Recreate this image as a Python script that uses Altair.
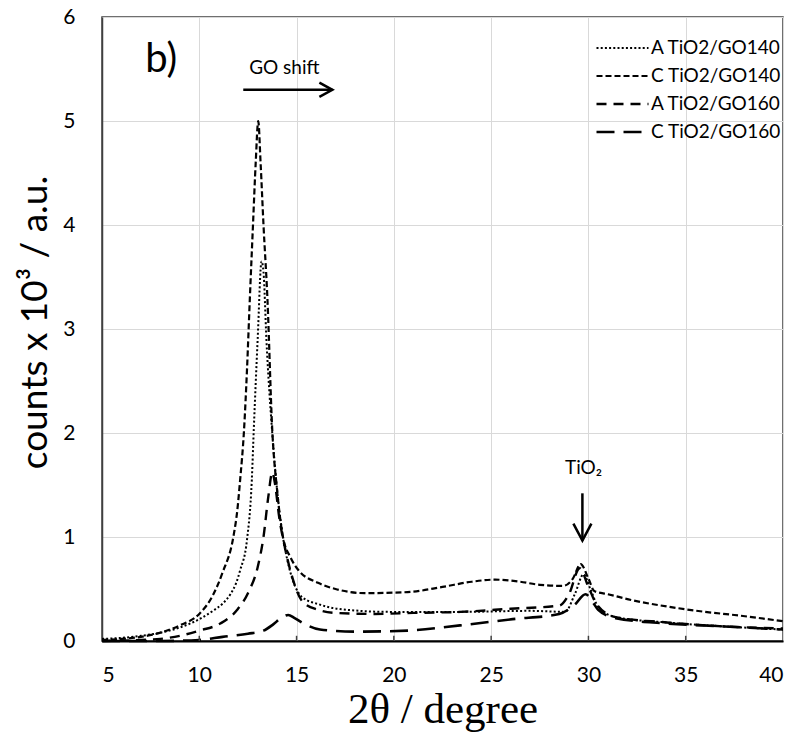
import altair as alt
import pandas as pd

# ---- data ----
SERIES = ["A TiO2/GO140", "C TiO2/GO140", "A TiO2/GO160", "C TiO2/GO160"]

a140_x = [5, 6, 7, 8, 9, 10, 10.7, 11.2, 11.6, 11.9, 12.1, 12.45, 12.7, 12.8, 13.0, 13.2, 13.3, 13.45, 13.75, 14.0,
          14.3, 14.6, 15.3, 16.2, 17.1, 19.8, 23.4, 27.0, 28.8, 29.3, 29.75, 30.1, 30.5, 31.4, 33.9, 37.0, 40]
a140_y = [0.02, 0.03, 0.05, 0.08, 0.13, 0.21, 0.29, 0.36, 0.45, 0.56, 0.68, 0.97, 1.55, 2.03, 2.9, 3.65, 3.55, 2.9,
          2.0, 1.45, 1.0, 0.72, 0.42, 0.35, 0.31, 0.28, 0.28, 0.29, 0.28, 0.45, 0.64, 0.5, 0.33, 0.23, 0.18, 0.14, 0.11]

c140_x = [5, 6, 7, 8, 9, 10, 10.7, 11.2, 11.75, 11.95, 12.1, 12.3, 12.45, 12.6, 12.76, 12.9, 13.03, 13.15, 13.3, 13.5,
          13.75, 14.0, 14.3, 14.7, 15.1, 16.1, 17.0, 18.5, 20.7, 22.5, 24.0, 25.2, 26.5, 27.5, 28.7, 29.2, 29.6, 30.0,
          30.3, 31.0, 32.3, 34.1, 36.0, 37.5, 40]
c140_y = [0.01, 0.02, 0.04, 0.08, 0.15, 0.26, 0.44, 0.66, 1.0, 1.25, 1.55, 2.03, 2.6, 3.3, 4.0, 4.6, 5.0, 4.6, 4.0, 3.3,
          2.03, 1.45, 1.0, 0.8, 0.68, 0.56, 0.5, 0.46, 0.47, 0.52, 0.57, 0.59, 0.57, 0.54, 0.53, 0.6, 0.74, 0.6,
          0.48, 0.45, 0.39, 0.33, 0.28, 0.25, 0.19]

a160_x = [5, 7, 8, 9, 10, 11.1, 11.95, 12.5, 13.0, 13.3, 13.55, 13.75, 13.9, 14.1, 14.4, 14.8, 15.3, 16.1, 17.0,
          19.0, 21.0, 23.4, 26.0, 28.5, 29.0, 29.55, 30.0, 30.4, 31.4, 33.9, 37.0, 40]
a160_y = [0.0, 0.01, 0.02, 0.05, 0.1, 0.17, 0.30, 0.46, 0.71, 1.0, 1.39, 1.62, 1.5, 1.2, 0.9, 0.6, 0.38, 0.3, 0.27,
          0.26, 0.27, 0.28, 0.31, 0.34, 0.45, 0.7, 0.52, 0.36, 0.23, 0.18, 0.14, 0.12]

c160_x = [5, 8, 10, 11.2, 12.5, 13.3, 13.8, 14.2, 14.57, 14.9, 15.35, 16.2, 18.0, 20.7, 23.4, 26.1, 28.5, 29.3, 29.85,
          30.2, 30.5, 31.4, 33.9, 37.0, 40]
c160_y = [0.0, 0.0, 0.01, 0.04, 0.07, 0.1, 0.16, 0.22, 0.25, 0.22, 0.17, 0.11, 0.09, 0.1, 0.15, 0.21, 0.26, 0.35, 0.45,
          0.38, 0.3, 0.22, 0.17, 0.14, 0.11]

X_TICKS = [5, 10, 15, 20, 25, 30, 35, 40]
Y_TICKS = [0, 1, 2, 3, 4, 5, 6]

rows = []
for name, xs, ys in [(SERIES[0], a140_x, a140_y), (SERIES[1], c140_x, c140_y),
                     (SERIES[2], a160_x, a160_y), (SERIES[3], c160_x, c160_y)]:
    for xv, yv in zip(xs, ys):
        rows.append({"series": name, "x": xv, "y": yv})
df = pd.DataFrame(rows)

FONT = "Lato"

xscale = alt.Scale(domain=[5, 40], nice=False, zero=False)
yscale = alt.Scale(domain=[0, 6], nice=False)

lines = alt.Chart(df).mark_line(interpolate="monotone", color="black").encode(
    x=alt.X("x:Q", scale=xscale,
            axis=alt.Axis(values=X_TICKS, format="d", grid=True, gridColor="#d9d9d9", ticks=False,
                          domainColor="black", domainWidth=2, labelFontSize=21, labelFont=FONT,
                          labelPadding=23, labelColor="black",
                          title="2θ / degree", titleFont="Liberation Serif", titleFontSize=43,
                          titleFontWeight="normal", titleColor="black", titleY=81,
                          titleBaseline="alphabetic")),
    y=alt.Y("y:Q", scale=yscale,
            axis=alt.Axis(values=Y_TICKS, format="d", grid=True, gridColor="#d9d9d9", ticks=False,
                          domainColor="#404040", domainWidth=1.5, labelFontSize=21, labelFont=FONT,
                          labelPadding=27, labelColor="black",
                          title="counts x 10³ / a.u.", titleFont=FONT, titleFontSize=37,
                          titleFontWeight="normal", titleColor="black", titleX=-56, titleY=305,
                          titleBaseline="alphabetic", titleAngle=270)),
    strokeDash=alt.StrokeDash("series:N",
                              scale=alt.Scale(domain=SERIES, range=[[2, 2.2], [6, 3], [10, 7], [18, 9]]),
                              legend=alt.Legend(title=None, orient="none", legendX=493, legendY=21,
                                                symbolType="stroke", symbolSize=2704, clipHeight=20,
                                                rowPadding=8, labelFontSize=19, labelFont=FONT,
                                                labelColor="black", symbolStrokeColor="black",
                                                symbolStrokeWidth=2.2, labelOffset=1, padding=0)),
    strokeWidth=alt.StrokeWidth("series:N",
                                scale=alt.Scale(domain=SERIES, range=[2.0, 2.6, 2.2, 2.2]),
                                legend=None),
    order=alt.Order("x:Q"),
)

xt = pd.DataFrame({"t": X_TICKS[1:-1]})
ticks = alt.Chart(xt).mark_rule(color="#404040", strokeWidth=1.5).encode(
    x=alt.X("t:Q", scale=xscale), y=alt.datum(0), y2=alt.datum(0.05))

# annotations
ann = pd.DataFrame({"x": [8.04], "y": [5.47], "t": ["b)"]})
b_label = alt.Chart(ann).mark_text(fontSize=40, font=FONT, align="center", baseline="alphabetic",
                                   color="black").encode(x=alt.X("x:Q", scale=xscale),
                                                         y=alt.Y("y:Q", scale=yscale), text="t:N")

go = pd.DataFrame({"x": [14.37], "y": [5.45], "t": ["GO shift"]})
go_label = alt.Chart(go).mark_text(fontSize=19, font=FONT, align="center", baseline="alphabetic",
                                   color="black").encode(x=alt.X("x:Q", scale=xscale),
                                                         y=alt.Y("y:Q", scale=yscale), text="t:N")

go_arrow_df = pd.DataFrame({"x": [12.26], "x2": [16.84], "y": [5.30]})
go_shaft = alt.Chart(go_arrow_df).mark_rule(color="black", strokeWidth=2.5).encode(
    x=alt.X("x:Q", scale=xscale), x2="x2:Q", y=alt.Y("y:Q", scale=yscale))
go_head = alt.Chart(go_arrow_df).mark_point(shape="M -1 -0.55 L 0 0 L -1 0.55", size=676, filled=False,
                                            color="black", strokeWidth=2.5, opacity=1).encode(
    x=alt.X("x2:Q", scale=xscale), y=alt.Y("y:Q", scale=yscale))

ti = pd.DataFrame({"x": [29.75], "y": [1.61], "t": ["TiO₂"]})
ti_label = alt.Chart(ti).mark_text(fontSize=19, font=FONT, align="center", baseline="alphabetic",
                                   color="black").encode(x=alt.X("x:Q", scale=xscale),
                                                         y=alt.Y("y:Q", scale=yscale), text="t:N")

ti_arrow_df = pd.DataFrame({"x": [29.69], "y": [1.42], "y2": [0.965]})
ti_shaft = alt.Chart(ti_arrow_df).mark_rule(color="black", strokeWidth=2.5).encode(
    x=alt.X("x:Q", scale=xscale), y=alt.Y("y:Q", scale=yscale), y2="y2:Q")
ti_head = alt.Chart(ti_arrow_df).mark_point(shape="M -0.53 -1 L 0 0 L 0.53 -1", size=1156, filled=False,
                                            color="black", strokeWidth=2.5, opacity=1).encode(
    x=alt.X("x:Q", scale=xscale), y=alt.Y("y2:Q", scale=yscale))

chart = alt.layer(lines, ticks, b_label, go_label, go_shaft, go_head, ti_label, ti_shaft, ti_head).properties(
    width=681, height=624,
    autosize=alt.AutoSizeParams(type="none"),
    padding={"left": 102, "top": 17, "right": 13, "bottom": 92},
    background="white",
).configure_view(stroke="#404040", strokeWidth=1.5)

chart.save("out.html", embed_options={"renderer": "svg", "actions": False})
